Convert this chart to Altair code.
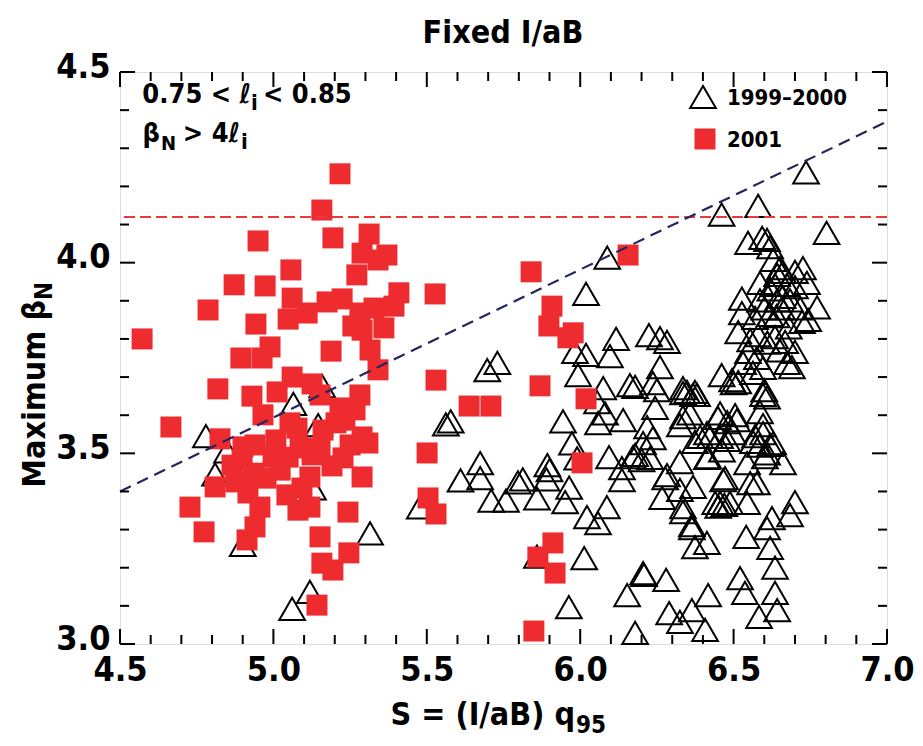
import altair as alt
import pandas as pd

FONT = "Liberation Sans Narrow, DejaVu Sans Condensed, sans-serif"

# ---- data ----
# 2001 shots (red squares): (S, max beta_N)
shots_2001 = [
    (5.217, 4.233), (5.158, 4.138), (4.950, 4.057), (5.194, 4.065), (5.312, 4.075),
    (5.289, 4.025), (5.370, 4.020), (5.341, 4.007), (5.057, 3.981), (5.272, 3.968),
    (4.872, 3.942), (4.973, 3.939), (5.409, 3.921), (4.787, 3.876), (5.061, 3.907),
    (5.175, 3.897), (5.224, 3.905), (5.110, 3.868), (5.048, 3.852), (4.943, 3.839),
    (5.282, 3.868), (5.328, 3.881), (5.393, 3.886), (5.259, 3.834), (5.360, 3.829),
    (5.289, 3.823), (4.989, 3.779), (4.894, 3.750), (4.963, 3.750), (5.188, 3.768),
    (5.315, 3.771), (5.341, 3.719), (5.061, 3.700), (5.126, 3.682), (4.572, 3.800),
    (4.819, 3.669), (4.930, 3.650), (5.012, 3.661), (5.152, 3.653), (5.282, 3.653),
    (5.217, 3.619), (4.966, 3.601), (5.054, 3.580), (5.077, 3.566), (4.666, 3.569),
    (4.826, 3.538), (4.901, 3.517), (4.940, 3.522), (5.162, 3.561), (5.204, 3.580),
    (5.289, 3.543), (5.308, 3.527), (4.898, 3.483), (4.999, 3.490), (5.048, 3.490),
    (5.126, 3.496), (5.152, 3.514), (5.227, 3.488), (4.810, 3.412), (4.728, 3.359),
    (4.774, 3.294), (4.917, 3.396), (4.956, 3.359), (4.940, 3.307), (4.914, 3.273),
    (4.934, 3.448), (5.022, 3.456), (5.044, 3.391), (5.080, 3.351), (5.119, 3.359),
    (5.119, 3.438), (5.289, 3.438), (5.243, 3.346), (5.152, 3.281), (5.158, 3.212),
    (5.194, 3.194), (5.246, 3.239), (5.142, 3.102), (5.501, 3.501), (5.504, 3.383),
    (5.530, 3.341), (5.527, 3.918), (5.530, 3.692), (5.638, 3.624), (5.709, 3.624),
    (5.840, 3.976), (6.156, 4.020), (5.908, 3.886), (5.898, 3.834), (5.977, 3.816),
    (5.960, 3.803), (5.869, 3.677), (6.019, 3.643), (6.006, 3.475), (5.911, 3.265),
    (5.862, 3.228), (5.918, 3.186), (5.849, 3.034), (4.865, 3.469), (4.976, 3.435),
    (5.087, 3.514), (5.191, 3.467), (5.250, 3.522), (5.093, 3.409), (5.008, 3.535),
    (4.878, 3.425), (5.233, 3.587), (5.266, 3.614),
]

# 1999-2000 shots (open triangles): (S, max beta_N)
shots_1999_2000 = [
    (4.780, 3.545), (4.849, 3.505), (4.810, 3.445), (4.900, 3.260), (5.065, 3.630),
    (5.146, 3.574), (5.159, 3.676), (5.087, 3.403), (5.129, 3.408), (5.315, 3.290),
    (5.119, 3.137), (5.061, 3.092), (5.477, 3.358),
    (5.562, 3.576), (5.578, 3.584), (5.610, 3.429), (5.674, 3.435), (5.674, 3.474),
    (5.710, 3.376), (5.758, 3.376), (5.797, 3.424), (5.813, 3.432), (5.859, 3.382),
    (5.893, 3.469), (5.900, 3.456), (5.890, 3.432), (5.964, 3.410), (5.951, 3.372),
    (5.697, 3.718), (5.730, 3.737), (5.859, 3.229), (6.013, 3.225), (5.963, 3.097),
    (5.944, 3.584), (5.973, 3.526), (5.990, 3.487), (6.022, 3.333), (6.058, 3.317),
    (6.087, 3.359), (6.055, 3.634), (6.075, 3.671), (6.058, 3.579), (6.094, 3.490),
    (6.136, 3.461), (6.136, 3.430), (6.140, 3.587), (6.172, 3.490), (6.162, 3.679),
    (6.179, 3.674), (6.218, 3.569), (5.983, 3.766), (6.019, 3.758), (5.993, 3.705),
    (6.097, 3.755), (6.117, 3.800), (6.088, 4.013), (6.019, 3.918), (6.205, 3.186),
    (6.153, 3.128), (6.179, 3.029),
    (6.736, 4.237), (6.580, 4.149), (6.461, 4.126), (6.803, 4.078), (6.547, 4.052),
    (6.593, 4.065), (6.609, 4.060), (6.619, 4.041), (6.629, 4.007), (6.651, 3.986),
    (6.726, 3.986), (6.700, 3.976), (6.661, 3.976), (6.642, 3.968), (6.586, 3.947),
    (6.635, 3.942), (6.674, 3.942), (6.700, 3.936), (6.739, 3.947), (6.527, 3.906),
    (6.586, 3.901), (6.642, 3.901), (6.684, 3.901), (6.772, 3.883), (6.717, 3.880),
    (6.658, 3.880), (6.527, 3.868), (6.570, 3.855), (6.619, 3.863), (6.723, 3.845),
    (6.743, 3.850), (6.515, 3.818), (6.554, 3.797), (6.635, 3.805), (6.668, 3.792),
    (6.700, 3.766), (6.674, 3.737), (6.690, 3.726), (6.547, 3.766), (6.576, 3.750),
    (6.596, 3.724), (6.531, 3.737), (6.461, 3.705), (6.495, 3.692), (6.515, 3.687),
    (6.609, 3.647), (6.586, 3.608), (6.368, 3.653), (6.335, 3.658), (6.456, 3.605),
    (6.505, 3.600),
    (6.224, 3.810), (6.260, 3.802), (6.283, 3.792), (6.260, 3.726), (6.237, 3.684),
    (6.335, 3.671), (6.374, 3.661), (6.250, 3.666), (6.348, 3.661), (6.381, 3.653),
    (6.500, 3.684), (6.596, 3.653), (6.081, 3.605), (6.244, 3.619), (6.335, 3.595),
    (6.358, 3.605), (6.325, 3.574), (6.449, 3.593), (6.479, 3.582), (6.511, 3.587),
    (6.596, 3.574), (6.413, 3.553), (6.456, 3.543), (6.498, 3.553), (6.374, 3.530),
    (6.237, 3.540), (6.205, 3.527), (6.563, 3.530), (6.619, 3.522), (6.228, 3.488),
    (6.179, 3.496), (6.325, 3.477), (6.413, 3.488), (6.462, 3.508), (6.544, 3.474),
    (6.602, 3.490), (6.661, 3.474), (6.277, 3.435), (6.325, 3.404), (6.368, 3.412),
    (6.466, 3.430), (6.554, 3.422), (6.456, 3.370), (6.488, 3.370), (6.544, 3.370),
    (6.267, 3.383), (6.335, 3.346), (6.700, 3.372), (6.684, 3.338), (6.625, 3.330),
    (6.609, 3.304), (6.364, 3.304), (6.374, 3.254), (6.413, 3.265), (6.541, 3.281),
    (6.619, 3.252), (6.635, 3.200), (6.208, 3.181), (6.280, 3.168), (6.417, 3.128),
    (6.521, 3.173), (6.537, 3.134), (6.635, 3.134), (6.290, 3.081), (6.325, 3.058),
    (6.364, 3.089), (6.407, 3.037), (6.583, 3.071), (6.642, 3.089),
    (6.391, 3.543), (6.423, 3.543), (6.479, 3.535), (6.596, 3.553), (6.629, 3.527),
    (6.609, 3.500), (6.417, 3.490), (6.200, 3.482), (6.283, 3.443), (6.472, 3.435),
    (6.576, 3.422), (6.364, 3.312), (6.335, 3.359), (6.563, 3.711), (6.600, 3.666),
    (6.620, 3.930), (6.660, 3.910), (6.600, 3.880), (6.640, 3.860), (6.680, 3.830),
    (6.610, 3.790), (6.650, 3.770), (6.580, 3.810), (6.570, 3.545), (6.585, 3.520),
    (6.440, 3.370), (6.450, 3.360), (6.470, 3.365),
]

x_major = [4.5, 5.0, 5.5, 6.0, 6.5, 7.0]
x_minor = [4.6, 4.7, 4.8, 4.9, 5.1, 5.2, 5.3, 5.4, 5.6, 5.7, 5.8, 5.9,
           6.1, 6.2, 6.3, 6.4, 6.6, 6.7, 6.8, 6.9]
y_major = [3.0, 3.5, 4.0, 4.5]
y_minor = [3.1, 3.2, 3.3, 3.4, 3.6, 3.7, 3.8, 3.9, 4.1, 4.2, 4.3, 4.4]

limit_beta = [4.12]                # red dashed horizontal
trend_s = [4.5, 7.0]               # navy dashed line
trend_beta = [3.40, 4.37]

# ---- chart ----
W, H = 767, 572
RED = "#ee2b2f"
NAVY = "#25255e"

xs = alt.Scale(domain=[4.5, 7.0], nice=False, zero=False)
ys = alt.Scale(domain=[3.0, 4.5], nice=False, zero=False)

x_axis = alt.Axis(values=x_major, format=".1f", title="", ticks=False, domain=False,
                  grid=False, labelFont=FONT, labelFontSize=34, labelFontWeight="bold",
                  labelColor="black", labelPadding=9, labelFlush=False)
y_axis = alt.Axis(values=y_major, format=".1f", title="", ticks=False, domain=False,
                  grid=False, labelFont=FONT, labelFontSize=34, labelFontWeight="bold",
                  labelColor="black", labelPadding=10, labelFlush=False, labelOffset=-5)


def X(field):
    return alt.X(field, scale=xs, axis=x_axis)


def Y(field):
    return alt.Y(field, scale=ys, axis=y_axis)


tri_df = pd.DataFrame(shots_1999_2000, columns=["S", "beta"])
sq_df = pd.DataFrame(shots_2001, columns=["S", "beta"])

triangles = alt.Chart(tri_df).mark_point(
    shape="triangle-up", size=660, filled=False, stroke="black",
    strokeWidth=2, opacity=1
).encode(x=X("S:Q"), y=Y("beta:Q"))

squares = alt.Chart(sq_df).mark_square(
    size=441, color=RED, opacity=1, strokeWidth=0
).encode(x=X("S:Q"), y=Y("beta:Q"))

limit = alt.Chart(pd.DataFrame({"beta": limit_beta})).mark_rule(
    color="#e8393b", strokeDash=[11, 5], strokeWidth=2
).encode(y=Y("beta:Q"))

trend = alt.Chart(pd.DataFrame({"S": trend_s, "beta": trend_beta})).mark_line(
    color=NAVY, strokeDash=[12, 7], strokeWidth=2.2
).encode(x=X("S:Q"), y=Y("beta:Q"))


def xticks(vals, length):
    d = pd.DataFrame({"S": vals})
    base = alt.Chart(d).mark_rule(color="black", strokeWidth=2)
    bot = base.encode(x=X("S:Q"), y=alt.value(H), y2=alt.value(H - length))
    top = base.encode(x=X("S:Q"), y=alt.value(0), y2=alt.value(length))
    return [bot, top]


def yticks(vals, length):
    d = pd.DataFrame({"beta": vals})
    base = alt.Chart(d).mark_rule(color="black", strokeWidth=2)
    left = base.encode(y=Y("beta:Q"), x=alt.value(0), x2=alt.value(length))
    right = base.encode(y=Y("beta:Q"), x=alt.value(W), x2=alt.value(W - length))
    return [left, right]


one = pd.DataFrame({"k": [0]})


def txt(s, x, y, size, align="left", baseline="alphabetic", angle=0, color="black"):
    kw = dict(font=FONT, fontSize=size, fontWeight="bold", align=align,
              baseline=baseline, color=color)
    if angle:
        kw["angle"] = angle
    return alt.Chart(one).mark_text(**kw).encode(
        x=alt.value(x), y=alt.value(y), text=alt.value(s))


texts = [
    txt("Fixed I/aB", 383, -39, 32, align="center", baseline="middle"),
    # annotation line 1: 0.75 < l_i < 0.85
    txt("0.75 < \u2113", 131, 31, 27, align="right"),
    txt("i", 131, 38, 22),
    txt("< 0.85", 143, 31, 27),
    # annotation line 2: beta_N > 4 l_i
    txt("\u03b2", 40, 70, 27, align="right"),
    txt("N", 41, 78, 20),
    txt("> 4\u2113", 120, 70, 27, align="right"),
    txt("i", 121, 77, 22),
    # legend
    txt("1999\u20132000", 607, 26, 22, baseline="middle"),
    txt("2001", 607, 68, 22, baseline="middle"),
    # x title: S = (I/aB) q_95
    txt("S = (I/aB) q", 455, 653, 32, align="right"),
    txt("95", 456, 661, 24),
    # y title: Maximum beta_N (rotated)
    txt("Maximum \u03b2", -85, 228, 32, align="right", baseline="middle", angle=270),
    txt("N", -75, 228, 24, align="left", baseline="middle", angle=270),
]

legend_tri = alt.Chart(one).mark_point(
    shape="triangle-up", size=660, filled=False, stroke="black", strokeWidth=2, opacity=1
).encode(x=alt.value(583), y=alt.value(25))
legend_sq = alt.Chart(one).mark_square(size=441, color=RED, opacity=1, strokeWidth=0
).encode(x=alt.value(585), y=alt.value(67))

layers = ([triangles, squares, limit, trend]
          + xticks(x_major, 15) + xticks(x_minor, 9) + yticks(y_major, 15) + yticks(y_minor, 9)
          + [legend_tri, legend_sq] + texts)

chart = alt.layer(*layers).properties(
    width=W, height=H,
    autosize=alt.AutoSizeParams(type="none"),
    padding={"left": 120, "top": 72, "right": 36, "bottom": 102},
).configure_view(stroke="black", strokeWidth=2.5).configure(background="white")

chart.save("out.html", embed_options={"renderer": "svg", "actions": False})
